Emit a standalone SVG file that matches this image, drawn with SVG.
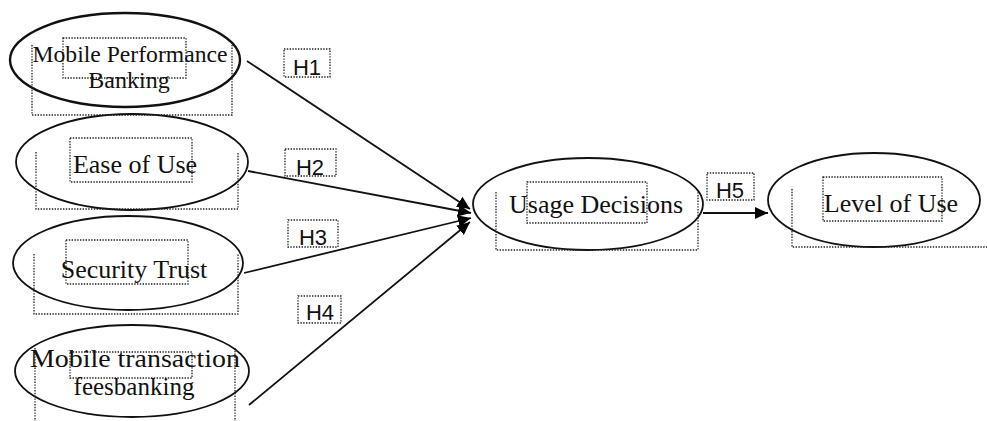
<svg xmlns="http://www.w3.org/2000/svg" width="987" height="421" viewBox="0 0 987 421">
<defs>
<marker id="arr" markerUnits="userSpaceOnUse" markerWidth="14" markerHeight="12" refX="13" refY="6" orient="auto">
<path d="M0,0 L13,6 L0,12 Z" fill="#000"/>
</marker>
<style>
.ell{fill:none;stroke:#111;stroke-width:1.8}
.box{fill:none;stroke:#222;stroke-width:1.3;stroke-dasharray:1.4 1.4}
.t{font-family:"Liberation Serif","Times New Roman",serif;font-size:26px;fill:#111;text-anchor:middle}
.h{font-family:"Liberation Sans",Arial,sans-serif;font-size:22px;fill:#111;text-anchor:middle}
.c{fill:none;stroke:#111;stroke-width:1.8}
</style>
</defs>
<rect width="987" height="421" fill="#fff"/>
<g id="connectors">
<line class="c" x1="247" y1="61" x2="470" y2="209" marker-end="url(#arr)"/>
<line class="c" x1="248" y1="171" x2="471" y2="213" marker-end="url(#arr)"/>
<line class="c" x1="244" y1="273" x2="471" y2="218" marker-end="url(#arr)"/>
<line class="c" x1="249" y1="405" x2="470" y2="222" marker-end="url(#arr)"/>
<line class="c" x1="703" y1="213" x2="768" y2="213" marker-end="url(#arr)"/>
<g id="h1"><rect class="box" x="284" y="49" width="46" height="28"/><text class="h" x="307" y="75">H1</text></g>
<g id="h2"><rect class="box" x="285" y="149" width="51" height="27"/><text class="h" x="310" y="175">H2</text></g>
<g id="h3"><rect class="box" x="288" y="220" width="50" height="27"/><text class="h" x="313" y="245">H3</text></g>
<g id="h4"><rect class="box" x="298" y="296" width="43" height="27"/><text class="h" x="320" y="320">H4</text></g>
<g id="h5"><rect class="box" x="707" y="173" width="47" height="27"/><text class="h" x="730" y="198">H5</text></g>
</g>
<g id="node-mpb">
<ellipse class="ell" cx="125" cy="60" rx="115" ry="47" style="stroke-width:2.4"/>
<rect class="box" x="63" y="38" width="123" height="40"/>
<path class="box" d="M32,45 V115 H232 V45"/>
<text class="t" x="130" y="62" style="font-size:24px" textLength="195" lengthAdjust="spacingAndGlyphs">Mobile Performance</text>
<text class="t" x="129" y="88" style="font-size:24px">Banking</text>
</g>
<g id="node-ease">
<ellipse class="ell" cx="132" cy="162" rx="116" ry="48"/>
<rect class="box" x="70" y="138" width="122" height="44"/>
<path class="box" d="M36,152 V209 H238 V152"/>
<text class="t" x="135" y="173">Ease of Use</text>
</g>
<g id="node-sec">
<ellipse class="ell" cx="128" cy="263" rx="115" ry="47"/>
<rect class="box" x="66" y="240" width="122" height="44"/>
<path class="box" d="M34,254 V314 H238 V254"/>
<text class="t" x="134" y="278">Security Trust</text>
</g>
<g id="node-fees">
<ellipse class="ell" cx="132" cy="371" rx="117" ry="46"/>
<rect class="box" x="70" y="352" width="122" height="26"/>
<path class="box" d="M35,348 V421 M235,348 V421"/>
<text class="t" x="135" y="367" style="font-size:25px" textLength="210" lengthAdjust="spacingAndGlyphs">Mobile transaction</text>
<text class="t" x="134" y="395" style="font-size:25px">feesbanking</text>
</g>
<g id="node-usage">
<ellipse class="ell" cx="588" cy="204" rx="115" ry="46"/>
<rect class="box" x="527" y="182" width="120" height="41"/>
<path class="box" d="M496,192 V250 H698 V192"/>
<text class="t" x="596" y="213">Usage Decisions</text>
</g>
<g id="node-level">
<ellipse class="ell" cx="874" cy="200" rx="106" ry="47"/>
<rect class="box" x="823" y="177" width="119" height="44"/>
<path class="box" d="M792,189 V247 H987"/>
<text class="t" x="891" y="212">Level of Use</text>
</g>
</svg>
